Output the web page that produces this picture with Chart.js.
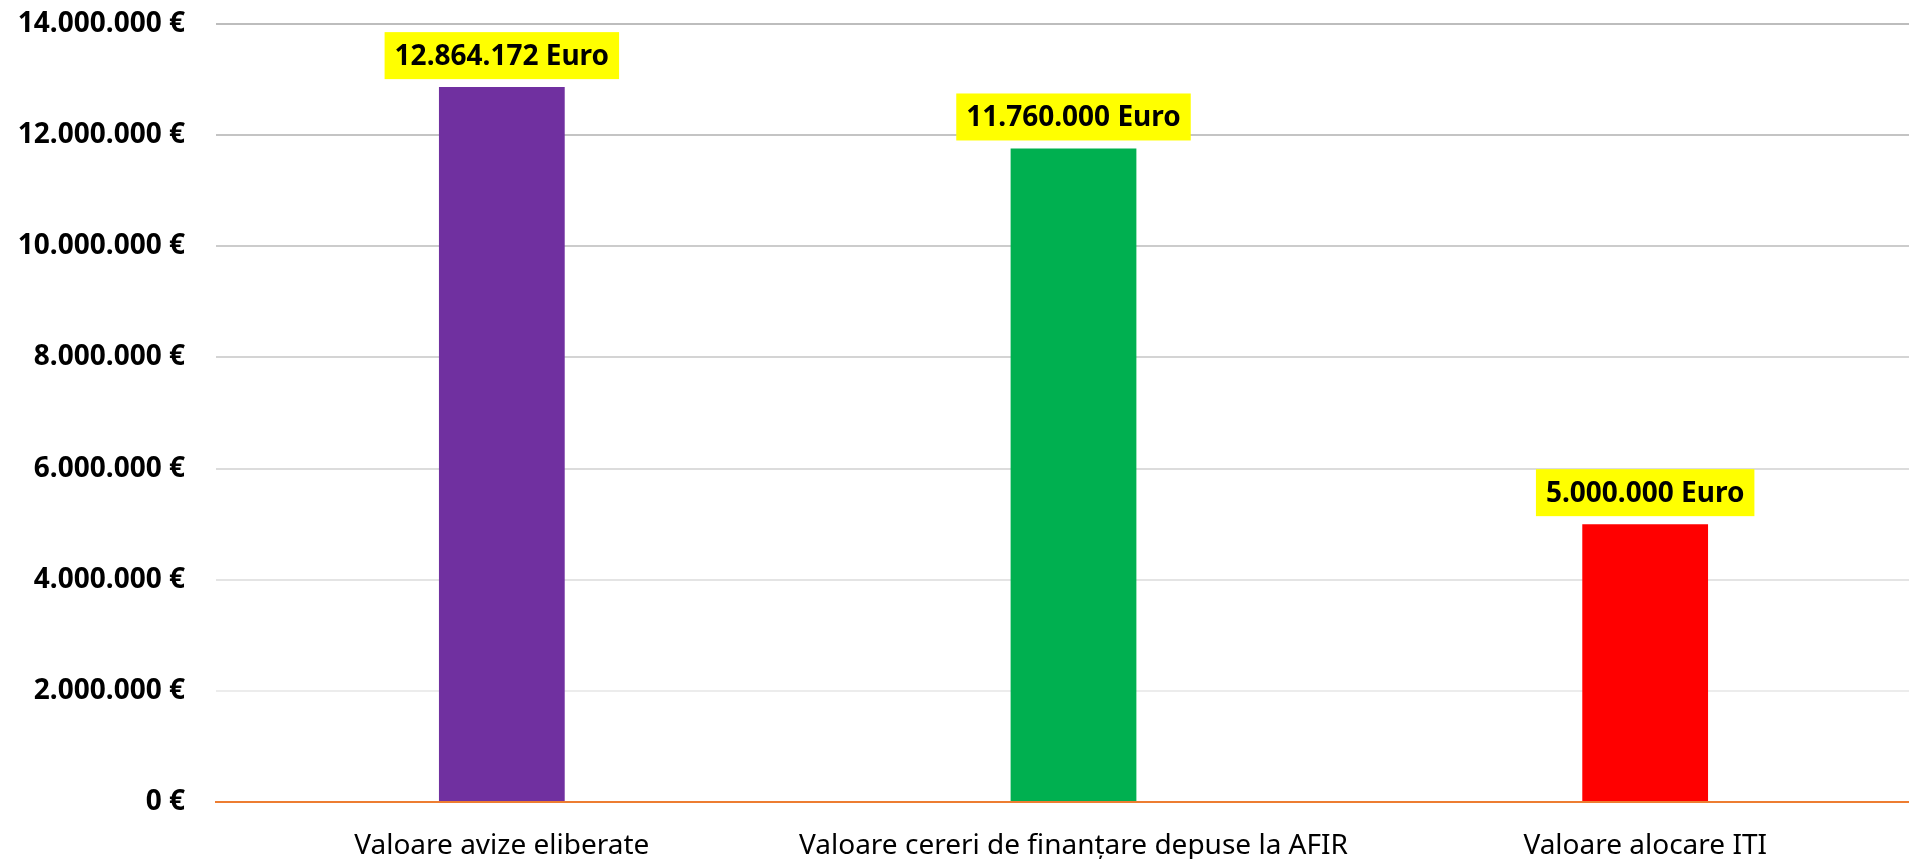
<!DOCTYPE html>
<html>
<head>
<meta charset="utf-8">
<script src="https://cdn.jsdelivr.net/npm/chart.js@4.4.0/dist/chart.umd.min.js"></script>
<style>
  html, body { margin: 0; padding: 0; background: #fff; overflow: hidden; }
  #wrap { position: relative; width: 1931px; height: 859px; }
</style>
</head>
<body>
<div id="wrap"><canvas id="grafic"></canvas></div>
<script>
const categorii = ['Valoare avize eliberate', 'Valoare cereri de finanțare depuse la AFIR', 'Valoare alocare ITI'];
const valori = [12864172, 11760000, 5000000];
const culori = ['#7030A0', '#00B050', '#FF0000'];
const etichete = ['12.864.172 Euro', '11.760.000 Euro', '5.000.000 Euro'];
const gridCulori = ['#ffffff', '#ececec', '#e4e4e4', '#dcdcdc', '#d4d4d4', '#cccccc', '#c4c4c4', '#bdbdbd'];

function formatEuro(v) {
    return String(Math.round(v)).replace(/\B(?=(\d{3})+(?!\d))/g, '.') + ' €';
}

// etichete galbene deasupra barelor
const eticheteGalbene = {
    id: 'eticheteGalbene',
    afterDatasetsDraw(chart) {
        const ctx = chart.ctx;
        const meta = chart.getDatasetMeta(0);
        ctx.save();
        ctx.font = 'bold 28px "Noto Sans"';
        ctx.textAlign = 'center';
        ctx.textBaseline = 'middle';
        meta.data.forEach((bar, i) => {
            const txt = etichete[i];
            const w = ctx.measureText(txt).width + 20;
            const h = 47;
            const jos = bar.y - 8;
            ctx.fillStyle = '#FFFF00';
            ctx.fillRect(bar.x - w / 2, jos - h, w, h);
            ctx.fillStyle = '#000';
            ctx.fillText(txt, bar.x, jos - h / 2 + 1);
        });
        ctx.restore();
    }
};

new Chart(document.getElementById('grafic'), {
    type: 'bar',
    data: {
        labels: categorii,
        datasets: [{
            data: valori,
            backgroundColor: culori,
            borderWidth: 0,
            barPercentage: 0.22,
            categoryPercentage: 1,
        }],
    },
    options: {
        responsive: true,
        maintainAspectRatio: false,
        animation: false,
        layout: { padding: { top: 24, right: 0, bottom: 0, left: 0 } },
        plugins: {
            legend: { display: false },
            tooltip: { enabled: false },
        },
        scales: {
            y: {
                min: 0,
                max: 14000000,
                afterFit: s => { s.width = 216; s.paddingTop = 0; s.paddingBottom = 0; },
                border: { display: false },
                grid: {
                    drawTicks: false,
                    lineWidth: 2,
                    color: c => gridCulori[c.index] || '#e0e0e0',
                },
                ticks: {
                    stepSize: 2000000,
                    padding: 31,
                    color: '#000',
                    font: { family: 'Noto Sans', size: 28, weight: 'bold' },
                    callback: v => formatEuro(v),
                },
            },
            x: {
                afterFit: s => { s.height = 57; s.paddingTop = 0; },
                border: { display: true, color: '#ED7D31', width: 2 },
                grid: { display: false },
                ticks: {
                    padding: 19,
                    color: '#000',
                    maxRotation: 0,
                    font: { family: 'Noto Sans', size: 28 },
                },
            },
        },
    },
    plugins: [eticheteGalbene],
});
</script>
</body>
</html>
